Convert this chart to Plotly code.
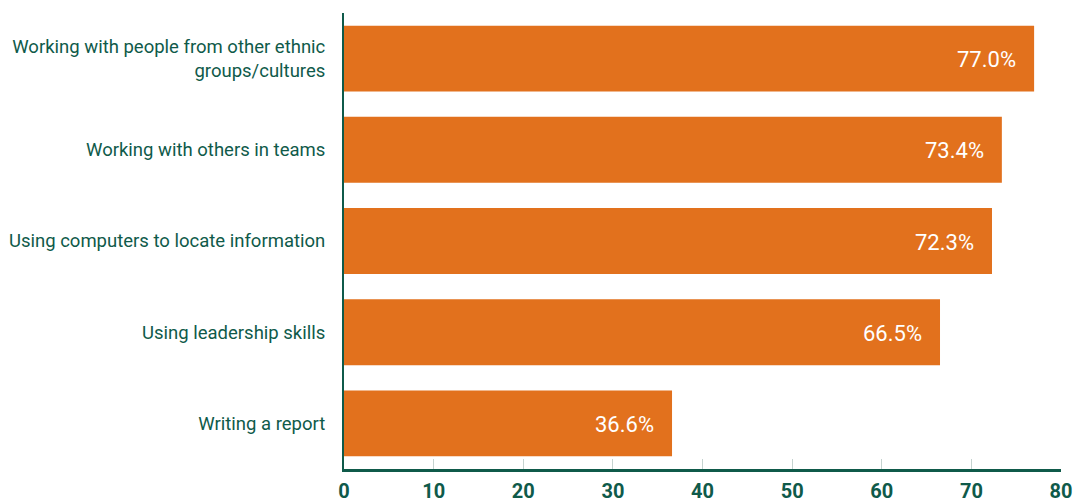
import plotly.graph_objects as go

categories = [
    "Working with people from other ethnic<br>groups/cultures",
    "Working with others in teams",
    "Using computers to locate information",
    "Using leadership skills",
    "Writing a report",
]
values = [77.0, 73.4, 72.3, 66.5, 36.6]
x_ticks = [0, 10, 20, 30, 40, 50, 60, 70, 80]

bar_color = "#E2711D"
green = "#0F5A4A"
font_family = "Roboto, 'Open Sans', sans-serif"

fig = go.Figure()
fig.add_trace(go.Bar(
    x=values,
    y=categories,
    orientation="h",
    marker=dict(color=bar_color, line=dict(width=0)),
    hoverinfo="skip",
))

for v, c in zip(values, categories):
    fig.add_annotation(
        x=v, y=c, xref="x", yref="y",
        text=f"{v:.1f}%",
        showarrow=False,
        xanchor="right",
        xshift=-16,
        yshift=-1,
        font=dict(family=font_family, size=22, color="white"),
    )

fig.update_layout(
    width=1076, height=504,
    margin=dict(l=344, r=15, t=13, b=35),
    paper_bgcolor="white",
    plot_bgcolor="white",
    bargap=0.277,
    showlegend=False,
    font=dict(family=font_family, color=green),
    xaxis=dict(
        range=[0, 80],
        tickvals=x_ticks,
        ticktext=[str(t) for t in x_ticks],
        showgrid=False,
        zeroline=False,
        showline=True,
        linecolor=green,
        linewidth=3,
        ticks="inside",
        ticklen=10,
        tickcolor="#C5D3D0",
        tickwidth=1,
        tickfont=dict(family=font_family, size=20, color=green, weight="bold"),
        ticklabelstandoff=2,
        automargin=False,
        fixedrange=True,
    ),
    yaxis=dict(
        categoryorder="array",
        categoryarray=categories[::-1],
        showgrid=False,
        zeroline=False,
        showline=True,
        linecolor=green,
        linewidth=2,
        ticks="",
        tickfont=dict(family=font_family, size=18.5, color=green),
        ticklabelstandoff=13,
        automargin=False,
        fixedrange=True,
    ),
)

fig.write_html(
    "out.html",
    config={"displayModeBar": False, "staticPlot": True},
    post_script="document.body.style.margin='0';document.body.style.overflow='hidden';",
)
